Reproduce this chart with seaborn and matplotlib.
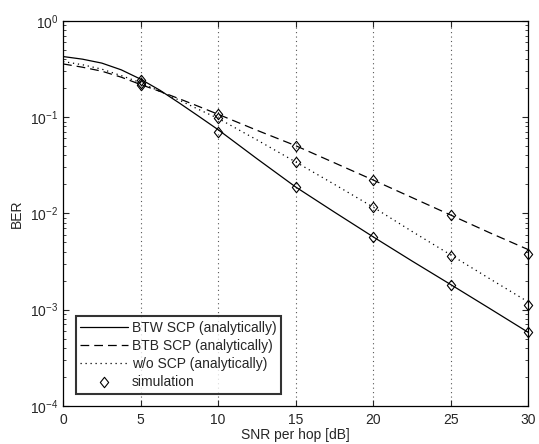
import numpy as np
import pandas as pd
import matplotlib
matplotlib.use("Agg")
import matplotlib.pyplot as plt
from matplotlib.lines import Line2D
from matplotlib.path import Path
import seaborn as sns

# analytical curves
snr = [0, 1.25, 2.5, 3.75, 5, 6.25, 7.5, 8.75, 10, 12.5, 15, 17.5, 20, 22.5, 25, 27.5, 30]
ber_btw = [0.426, 0.40, 0.364, 0.31, 0.248, 0.19, 0.14, 0.102, 0.074, 0.037, 0.0188,
           0.0103, 0.0057, 0.0032, 0.00182, 0.00103, 0.00058]
ber_btb = [0.357, 0.33, 0.30, 0.26, 0.218, 0.185, 0.155, 0.129, 0.107, 0.073, 0.0505,
           0.0335, 0.0222, 0.0146, 0.0096, 0.0063, 0.0042]
ber_wo = [0.378, 0.35, 0.315, 0.27, 0.228, 0.185, 0.15, 0.12, 0.097, 0.058, 0.0342,
          0.020, 0.0116, 0.0065, 0.0037, 0.0021, 0.0012]

# simulation points
snr_sim = [5, 10, 15, 20, 25, 30]
sim_btw = [0.244, 0.0708, 0.0188, 0.00566, 0.00181, 0.00059]
sim_btb = [0.215, 0.107, 0.0506, 0.0223, 0.00964, 0.00377]
sim_wo = [0.228, 0.098, 0.0342, 0.0116, 0.00364, 0.00112]

labels = ['BTW SCP (analytically)', 'BTB SCP (analytically)', 'w/o SCP (analytically)']

curves = pd.DataFrame({
    'snr': snr * 3,
    'ber': ber_btw + ber_btb + ber_wo,
    'scheme': [labels[0]] * len(snr) + [labels[1]] * len(snr) + [labels[2]] * len(snr),
})
sims = pd.DataFrame({
    'snr': snr_sim * 3,
    'ber': sim_btw + sim_btb + sim_wo,
})

sns.set_style("ticks")
plt.rcParams['font.family'] = ['Liberation Sans', 'DejaVu Sans']
FS = 10

fig = plt.figure(figsize=(5.39, 4.44), dpi=100)
ax = fig.add_axes([0.117, 0.086, 0.863, 0.867])

dash_map = {labels[0]: None, labels[1]: (7, 4), labels[2]: (1, 3)}
for lab in labels:
    sub = curves[curves['scheme'] == lab]
    sns.lineplot(data=sub, x='snr', y='ber', color='black', lw=0.9, ax=ax, legend=False)
    if dash_map[lab] is not None:
        ax.lines[-1].set_dashes(dash_map[lab])

# MATLAB-style diamond marker
diamond = Path([(0, 1), (0.8, 0), (0, -1), (-0.8, 0), (0, 1)],
               [Path.MOVETO, Path.LINETO, Path.LINETO, Path.LINETO, Path.CLOSEPOLY])
ax.plot(sims['snr'], sims['ber'], ls='none', marker=diamond, ms=7.5, mfc='none',
        mec='black', mew=0.8, clip_on=False, zorder=5)

ax.set_yscale('log')
ax.set_xlim(0, 30)
ax.set_ylim(1e-4, 1)
ax.set_xticks([0, 5, 10, 15, 20, 25, 30])
ax.tick_params(which='both', direction='in', top=True, right=True, labelsize=FS)
ax.tick_params(which='major', length=4)
ax.tick_params(which='minor', length=2)
ax.tick_params(axis='x', pad=5)
for xv in [5, 10, 15, 20, 25]:
    ax.axvline(xv, color='#555555', ls=(0, (1, 3)), lw=0.8, zorder=0)
for s in ax.spines.values():
    s.set_linewidth(0.9)
    s.set_color('black')

ax.set_xlabel('SNR per hop [dB]', fontsize=FS, labelpad=1)
ax.set_ylabel('BER', fontsize=FS, labelpad=4)

handles = [
    Line2D([], [], color='black', lw=0.9),
    Line2D([], [], color='black', lw=0.9, dashes=(7, 4)),
    Line2D([], [], color='black', lw=0.9, dashes=(1, 3)),
    Line2D([], [], ls='none', marker=diamond, ms=7.5, mfc='none', mec='black', mew=0.8),
]
leg = ax.legend(handles, labels + ['simulation'], loc='lower left', fontsize=FS,
                bbox_to_anchor=(0.012, 0.012), handlelength=3.4, frameon=True,
                fancybox=False, edgecolor='black', borderpad=0.35, labelspacing=0.3,
                handletextpad=0.3)
leg.get_frame().set_linewidth(1.5)

fig.savefig('out.png', dpi=100)
